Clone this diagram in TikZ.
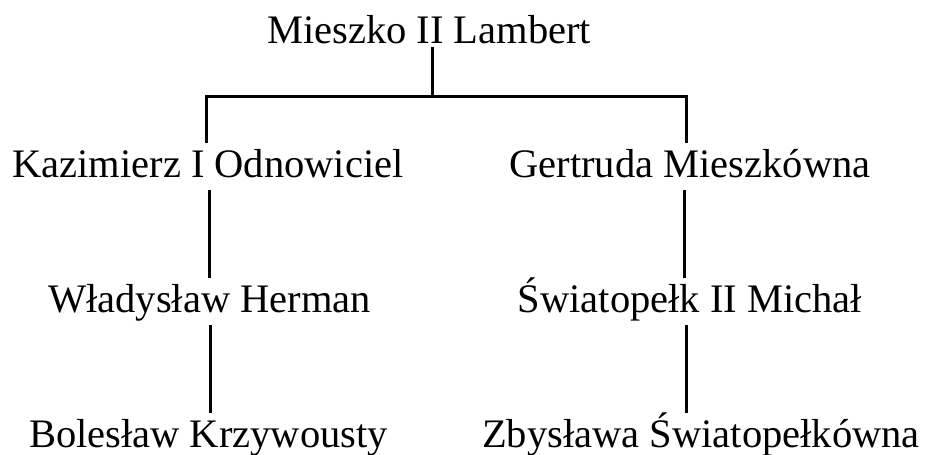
\documentclass[tikz,border=0pt]{standalone}
\usepackage{fontspec}
\setmainfont{Liberation Serif}
\usetikzlibrary{calc}
\begin{document}
\begin{tikzpicture}[x=1pt,y=1pt,
  person/.style={anchor=base,inner sep=0pt,outer sep=4pt,text height=30pt,text depth=9pt,font=\fontsize{40.5}{48}\selectfont},
  conn/.style={line width=3pt,draw=black}]
\useasboundingbox (0,0) rectangle (930,-455);
\node[person] (m)   at (429,-43)   {Mieszko II Lambert};
\node[person] (kaz) at (208,-177)  {Kazimierz I Odnowiciel};
\node[person] (ger) at (690,-177)  {Gertruda Mieszkówna};
\node[person] (wla) at (209.5,-312) {Władysław Herman};
\node[person] (swi) at (690,-312)  {Światopełk II Michał};
\node[person] (bol) at (208.5,-447) {Bolesław Krzywousty};
\node[person] (zby) at (701,-447)  {Zbysława Światopełkówna};
\draw[conn] ($(m.base)+(3.7,-4)$) -- ++(0,-49) coordinate (fork);
\draw[conn] ([xshift=-2pt]kaz.north) |- (fork) -| ([xshift=-4pt]ger.north);
\draw[conn] ([xshift=1.5pt]kaz.south) -- (wla.north);
\draw[conn] ([xshift=0.5pt]wla.south) -- ([xshift=1.5pt]bol.north);
\draw[conn] ([xshift=-6pt]ger.south) -- ([xshift=-6pt]swi.north);
\draw[conn] ([xshift=-4pt]swi.south) -- ([xshift=-15pt]zby.north);
\end{tikzpicture}
\end{document}
